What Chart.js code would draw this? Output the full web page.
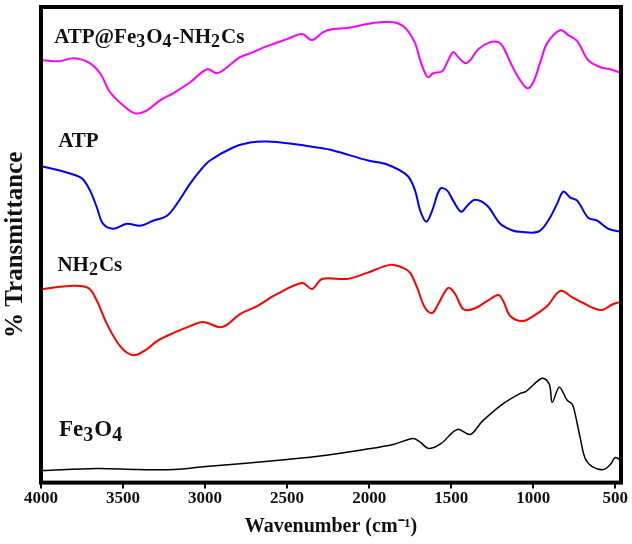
<!DOCTYPE html>
<html>
<head>
<meta charset="utf-8">
<script src="https://cdn.jsdelivr.net/npm/chart.js@4.4.1/dist/chart.umd.min.js"></script>
<style>
  body { margin: 0; background: #fff; }
  #wrap { width: 632px; height: 544px; }
</style>
</head>
<body>
<div id="wrap"><canvas id="ftir"></canvas></div>
<script>
// ---- DATA (wavenumber, cm-1 / transmittance, offset units) ----
const xTicks = [4000, 3500, 3000, 2500, 2000, 1500, 1000, 500];

const compWn = [3988, 3884, 3805, 3713, 3640, 3579, 3500, 3427, 3354, 3274, 3195, 3091, 2988, 2927, 2866, 2787, 2707, 2622, 2500, 2409, 2348, 2280, 2220, 2134, 2012, 1915, 1829, 1768, 1720, 1689, 1659, 1640, 1610, 1555, 1524, 1488, 1457, 1415, 1384, 1335, 1262, 1213, 1183, 1140, 1091, 1037, 1000, 957, 915, 835, 787, 732, 665, 591, 530, 463];
const compT  = [421, 420, 423, 419, 408, 389, 376, 368, 371, 381, 388, 399, 412, 408, 414, 424, 429, 435, 442, 447, 441, 449, 452, 453, 457, 459, 458, 451, 438, 421, 408, 404, 408, 410, 419, 429, 424, 418, 421, 432, 439, 439, 434, 419, 404, 393, 399, 419, 438, 451, 446, 440, 421, 414, 412, 408];

const atpWn = [3988, 3823, 3750, 3701, 3659, 3622, 3561, 3476, 3396, 3317, 3232, 3171, 3091, 3030, 2970, 2829, 2726, 2622, 2482, 2317, 2220, 2006, 1890, 1768, 1720, 1689, 1652, 1616, 1567, 1524, 1488, 1439, 1402, 1354, 1280, 1201, 1122, 1079, 970, 909, 854, 817, 774, 732, 665, 610, 543, 463];
const atpT  = [315, 308, 303, 291, 274, 258, 253, 258, 256, 261, 266, 278, 298, 311, 321, 334, 339, 340, 338, 334, 331, 321, 317, 306, 291, 271, 260, 271, 293, 291, 281, 270, 276, 282, 276, 258, 251, 250, 250, 261, 278, 290, 284, 281, 264, 261, 253, 250];

const chsWn = [3988, 3823, 3713, 3659, 3598, 3518, 3439, 3354, 3293, 3195, 3091, 3012, 2896, 2787, 2683, 2561, 2409, 2348, 2287, 2134, 2012, 1872, 1793, 1750, 1707, 1659, 1616, 1579, 1518, 1476, 1427, 1366, 1280, 1213, 1183, 1140, 1067, 1000, 915, 835, 756, 695, 634, 579, 512, 463];
const chsT  = [193, 196, 194, 181, 158, 136, 127, 133, 141, 149, 156, 160, 155, 168, 176, 188, 199, 193, 203, 203, 209, 217, 214, 209, 194, 174, 169, 178, 194, 188, 173, 173, 181, 187, 181, 166, 161, 166, 176, 191, 184, 179, 174, 172, 178, 180];

const feWn = [3988, 3659, 3409, 3189, 2994, 2768, 2500, 2274, 2030, 1854, 1732, 1695, 1634, 1561, 1463, 1384, 1311, 1189, 1079, 1043, 945, 902, 884, 841, 793, 762, 744, 713, 683, 640, 573, 530, 500, 463];
const feT  = [12, 14, 13, 13, 16, 19, 23, 27, 33, 38, 44, 41, 34, 39, 53, 48, 61, 78, 89, 91, 104, 98, 80, 95, 82, 78, 68, 44, 24, 16, 13, 18, 25, 22];

const FONT = '"Liberation Serif", "Times New Roman", serif';

function pts(wn, t) {
  return wn.map((w, i) => ({ x: w, y: t[i] }));
}

function series(label, wn, t, color, width) {
  return {
    label, data: pts(wn, t), borderColor: color, borderWidth: width,
    pointRadius: 0, fill: false, tension: 0.35
  };
}

// curve names, with subscripts, anchored near each curve's left end
const curveLabels = [
  { wn: 3920, y: 438, size: 21, parts: [["ATP@Fe"], ["3", 1], ["O"], ["4", 1], ["-NH"], ["2", 1], ["Cs"]] },
  { wn: 3895, y: 334, size: 21, parts: [["ATP"]] },
  { wn: 3900, y: 211, size: 21, parts: [["NH"], ["2", 1], ["Cs"]] },
  { wn: 3890, y: 46, size: 23, parts: [["Fe"], ["3", 1], ["O"], ["4", 1]] }
];

const framePlugin = {
  id: "frame",
  afterDatasetsDraw(chart) {
    const { ctx, chartArea: a, scales } = chart;
    ctx.save();
    ctx.strokeStyle = "#000";
    ctx.lineWidth = 4;
    ctx.strokeRect(a.left, a.top, a.right - a.left, a.bottom - a.top);

    ctx.fillStyle = "#111";
    ctx.textBaseline = "alphabetic";
    curveLabels.forEach(l => {
      let x = scales.x.getPixelForValue(l.wn);
      const y = scales.y.getPixelForValue(l.y);
      l.parts.forEach(([txt, sub]) => {
        const s = sub ? Math.round(l.size * 0.85) : l.size;
        ctx.font = `bold ${s}px ${FONT}`;
        ctx.fillText(txt, x, sub ? y + l.size * 0.2 : y);
        x += ctx.measureText(txt).width + (sub ? 1 : 0);
      });
    });
    ctx.restore();
  }
};

new Chart(document.getElementById("ftir"), {
  type: "line",
  data: {
    datasets: [
      series("ATP@Fe3O4-NH2Cs", compWn, compT, "#ff00ff", 2),
      series("ATP", atpWn, atpT, "#0000ff", 2),
      series("NH2Cs", chsWn, chsT, "#ff0000", 2),
      series("Fe3O4", feWn, feT, "#000000", 1.5)
    ]
  },
  options: {
    responsive: true,
    maintainAspectRatio: false,
    animation: false,
    layout: { padding: { top: 7, right: 11, bottom: 3, left: 0 } },
    plugins: { legend: { display: false }, tooltip: { enabled: false } },
    scales: {
      x: {
        type: "linear",
        reverse: true,
        min: 465,
        max: 4000,
        afterBuildTicks: s => { s.ticks = xTicks.map(v => ({ value: v })); },
        grid: { drawOnChartArea: false, color: "#000", lineWidth: 2, tickLength: 6 },
        border: { display: false },
        ticks: {
          color: "#111", padding: 0, maxRotation: 0,
          callback: v => String(v),
          font: { family: FONT, size: 17, weight: "bold" }
        },
        title: {
          display: true, text: "Wavenumber (cm\u207B\u00B9)", color: "#111",
          padding: { top: 6, bottom: 2 }, font: { family: FONT, size: 20, weight: "bold" }
        }
      },
      y: {
        min: 0,
        max: 474,
        grid: { display: false, drawTicks: false },
        border: { display: false },
        ticks: { display: false },
        title: {
          display: true, text: "% Transmittance", color: "#111",
          padding: { top: 1, bottom: 10 }, font: { family: FONT, size: 25, weight: "bold" }
        }
      }
    }
  },
  plugins: [framePlugin]
});
</script>
</body>
</html>
